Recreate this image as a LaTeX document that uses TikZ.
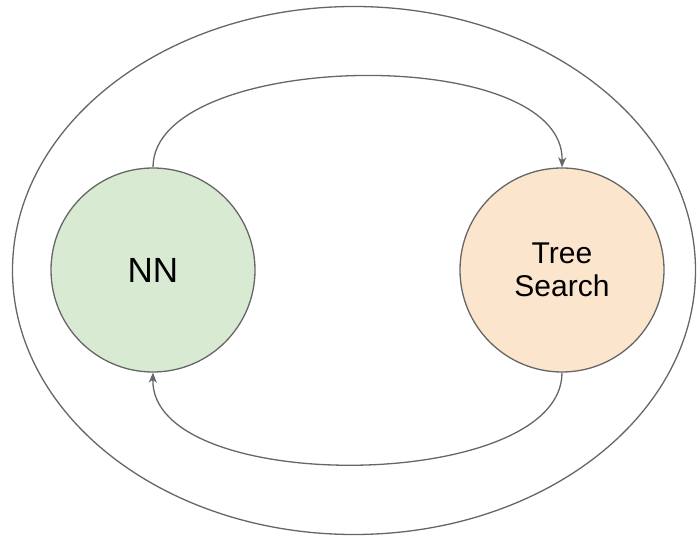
\documentclass[tikz,border=0pt]{standalone}
\usepackage{fontspec}
\setmainfont{Liberation Sans}
\usetikzlibrary{arrows.meta,shapes.geometric}
\definecolor{linegray}{HTML}{666666}
\definecolor{nnfill}{HTML}{D9EAD3}
\definecolor{tsfill}{HTML}{FCE5CD}
\begin{document}
\begin{tikzpicture}[x=1pt,y=-1pt,
  blob/.style={circle,draw=linegray,line width=1.3pt,minimum size=204pt,inner sep=0pt,align=center},
  conn/.style={draw=linegray,line width=1.3pt,-{Stealth[length=10pt,width=8pt,inset=3pt]}}]
\useasboundingbox (0,0) rectangle (697,537);
\node[ellipse,draw=linegray,line width=1.3pt,minimum width=683pt,minimum height=528pt,inner sep=0pt] (outer) at (354,270.5) {};
\node[blob,fill=nnfill,font=\fontsize{35}{38}\selectfont] (nn) at (153,270) {NN};
\node[blob,fill=tsfill,font=\fontsize{30}{33}\selectfont] (ts) at (562,270) {Tree\\Search};
\draw[conn] (nn.north) .. controls (153,50) and (565,42) .. (ts.north);
\draw[conn] (ts.south) .. controls (562,493) and (150,497) .. (nn.south);
\end{tikzpicture}
\end{document}
